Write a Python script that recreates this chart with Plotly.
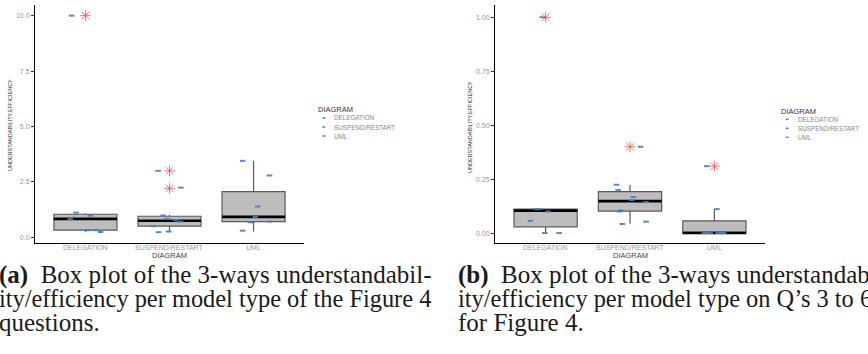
import plotly.graph_objects as go

W, H = 868, 354

categories = ["DELEGATION", "SUSPEND/RESTART", "UML"]

# ---------- Panel (a) ----------
a_q1 = [0.32, 0.50, 0.71]
a_median = [0.83, 0.75, 0.92]
a_q3 = [1.04, 0.95, 2.06]
a_lower = [0.23, 0.23, 0.26]
a_upper = [1.08, 1.01, 3.45]
a_out_cat = [0, 1, 1]
a_out_val = [10.0, 3.0, 2.21]
a_pt_cat = [0, 0, 0, 0, 0, 0, 0,
            1, 1, 1, 1, 1, 1, 1, 1, 1,
            2, 2, 2, 2, 2, 2, 2]
a_pt_jitter = [-0.165, -0.11, 0.06, -0.18, 0.03, 0.12, 0.18,
               -0.135, 0.135, -0.075, -0.03, 0.07, 0.13, -0.19, -0.13, -0.01,
               -0.13, 0.19, 0.05, 0.02, -0.04, 0.19, -0.13]
a_pt_val = [10.0, 1.11, 0.98, 0.83, 0.32, 0.32, 0.24,
            3.0, 2.24, 0.98, 0.83, 0.77, 0.71, 0.50, 0.23, 0.26,
            3.45, 2.79, 1.39, 0.92, 0.68, 0.71, 0.30]
a_ticks = [0.0, 2.5, 5.0, 7.5, 10.0]

# ---------- Panel (b) ----------
b_q1 = [0.029, 0.102, 0.0]
b_median = [0.104, 0.148, 0.0]
b_q3 = [0.111, 0.192, 0.057]
b_lower = [0.0, 0.043, 0.0]
b_upper = [0.111, 0.223, 0.111]
b_out_cat = [0, 1, 2]
b_out_val = [1.0, 0.40, 0.31]
b_pt_cat = [0, 0, 0, 0, 0, 0, 0,
            1, 1, 1, 1, 1, 1, 1, 1, 1, 1,
            2, 2, 2, 2, 2, 2, 2, 2]
b_pt_jitter = [-0.04, -0.11, -0.08, 0.03, -0.18, -0.01, 0.16,
               0.125, -0.16, -0.14, 0.04, 0.02, 0.19, -0.11, -0.125, -0.09, 0.19,
               -0.09, 0.03, -0.12, -0.09, -0.05, 0.045, 0.08, 0.11]
b_pt_val = [1.0, 0.111, 0.111, 0.10, 0.057, 0.0, 0.0,
            0.40, 0.224, 0.2, 0.167, 0.153, 0.144, 0.105, 0.10, 0.042, 0.053,
            0.31, 0.111, 0.0, 0.0, 0.0, 0.0, 0.0, 0.0]
b_ticks = [0.0, 0.25, 0.5, 0.75, 1.0]

caption_a = ["<b>(a)</b>\u2002Box plot of the 3-ways understandabil-",
             "ity/efficiency per model type of the Figure 4",
             "questions."]
caption_b = ["<b>(b)</b>\u2002Box plot of the 3-ways understandabil-",
             "ity/efficiency per model type on Q\u2019s 3 to 6",
             "for Figure 4."]

BOX_FILL = "#bdbdbd"
BOX_LINE = "#5a5a5a"
PT_COLOR = "rgba(70,125,195,0.9)"
OUT_COLOR = "rgba(235,85,85,0.8)"
SANS = "Liberation Sans, Arial, sans-serif"
SERIF = "Liberation Serif, Times New Roman, serif"


def px(x):
    return x / W


def py(y):
    return 1 - y / H


fig = go.Figure()


def add_panel(xa, ya, q1, med, q3, lo, up, out_cat, out_val, pcat, pjit, pval):
    idx = list(range(len(categories)))
    fig.add_trace(go.Box(x=idx, q1=q1, median=med, q3=q3, lowerfence=lo, upperfence=up,
                         width=0.75, whiskerwidth=0, fillcolor=BOX_FILL,
                         line=dict(color=BOX_LINE, width=1.2), boxpoints=False,
                         xaxis=xa, yaxis=ya, showlegend=False, hoverinfo="skip"))
    fig.add_trace(go.Box(x=idx, q1=med, median=med, q3=med, lowerfence=med, upperfence=med,
                         width=0.75, whiskerwidth=0, fillcolor="rgba(0,0,0,0)",
                         line=dict(color="black", width=2.6), boxpoints=False,
                         xaxis=xa, yaxis=ya, showlegend=False, hoverinfo="skip"))
    fig.add_trace(go.Scatter(x=[c + j for c, j in zip(pcat, pjit)], y=pval, mode="markers",
                             marker=dict(symbol="line-ew", size=4, color=PT_COLOR,
                                         line=dict(color=PT_COLOR, width=2)),
                             xaxis=xa, yaxis=ya, showlegend=False, hoverinfo="skip"))
    fig.add_trace(go.Scatter(x=out_cat, y=out_val, mode="markers",
                             marker=dict(symbol="asterisk-open", size=9, color=OUT_COLOR,
                                         line=dict(color=OUT_COLOR, width=1)),
                             xaxis=xa, yaxis=ya, showlegend=False, hoverinfo="skip"))


add_panel("x", "y", a_q1, a_median, a_q3, a_lower, a_upper, a_out_cat, a_out_val,
          a_pt_cat, a_pt_jitter, a_pt_val)
add_panel("x2", "y2", b_q1, b_median, b_q3, b_lower, b_upper, b_out_cat, b_out_val,
          b_pt_cat, b_pt_jitter, b_pt_val)

ydom = [py(243), py(5)]
xcommon = dict(range=[-0.6, 2.6], tickvals=[0, 1, 2], showticklabels=False,
               showline=True, linecolor="black", linewidth=1, ticks="", showgrid=False,
               zeroline=False, fixedrange=True)
ycommon = dict(showline=True, linecolor="black", linewidth=1, ticks="outside", ticklen=3,
               tickcolor="#333333", tickwidth=1, showgrid=False, zeroline=False,
               tickfont=dict(family=SANS, size=7, color="#999999"), domain=ydom,
               fixedrange=True)

fig.update_layout(
    width=W, height=H,
    margin=dict(l=0, r=0, t=0, b=0),
    paper_bgcolor="white", plot_bgcolor="white",
    boxmode="overlay",
    xaxis=dict(domain=[px(35), px(304)], anchor="y", **xcommon),
    yaxis=dict(range=[-0.257, 10.48], tickvals=a_ticks, tickformat=".1f", anchor="x", **ycommon),
    xaxis2=dict(domain=[px(495), px(765)], anchor="y2", **xcommon),
    yaxis2=dict(range=[-0.046, 1.057], tickvals=b_ticks, tickformat=".2f", anchor="x2", **ycommon),
)

ann = []


def text(x, y, s, size, color, xanchor="left", angle=0, family=SANS, xref="paper",
         yanchor="middle"):
    ann.append(dict(x=px(x) if xref == "paper" else x, y=py(y), xref=xref, yref="paper",
                    text=s, showarrow=False, xanchor=xanchor, yanchor=yanchor,
                    textangle=angle, borderpad=0, align="left",
                    font=dict(family=family, size=size, color=color)))


# category tick labels (on the data x axes)
for xr in ["x", "x2"]:
    for i, cat in enumerate(categories):
        text(i, 247.3, cat, 7, "#999999", xanchor="center", xref=xr)

# axis titles
for cx, ty in [(10, 125), (470, 127)]:
    text(cx, ty, "UNDERSTANDABILITY.EFFICIENCY", 5.5, "#333333", xanchor="center", angle=-90)
for cx in [169.5, 630.5]:
    text(cx, 255, "DIAGRAM", 7.5, "#444444", xanchor="center")

# legends
shapes = []
for (tx, ty, mx, tx2, ys) in [(316.7, 109.5, 322.3, 332.7, [118, 127, 136]),
                              (780, 111.7, 785.7, 796.7, [119.3, 128.3, 137.3])]:
    text(tx, ty, "DIAGRAM", 7.5, "#333333")
    for yy, cat in zip(ys, categories):
        shapes.append(dict(type="rect", xref="paper", yref="paper",
                           x0=px(mx), x1=px(mx + 3), y0=py(yy + 0.8), y1=py(yy - 0.8),
                           fillcolor=PT_COLOR, line=dict(width=0)))
        text(tx2, yy, cat, 6.3, "#888888")

# captions: base size sets the line pitch, spans set the glyph size
cap_sizes = [25, 24.4, 25]
for x0, lines in [(-2, caption_a), (457, caption_b)]:
    body = "<br>".join('<span style="font-size:%spx">%s</span>' % (sz, s)
                       for sz, s in zip(cap_sizes, lines))
    text(x0, 259.5, body, 18.3, "#1a1a1a", family=SERIF, yanchor="top")

fig.update_layout(annotations=ann, shapes=shapes)

fig.write_html("out.html", config={"displayModeBar": False},
               post_script="document.body.style.margin='0';")
